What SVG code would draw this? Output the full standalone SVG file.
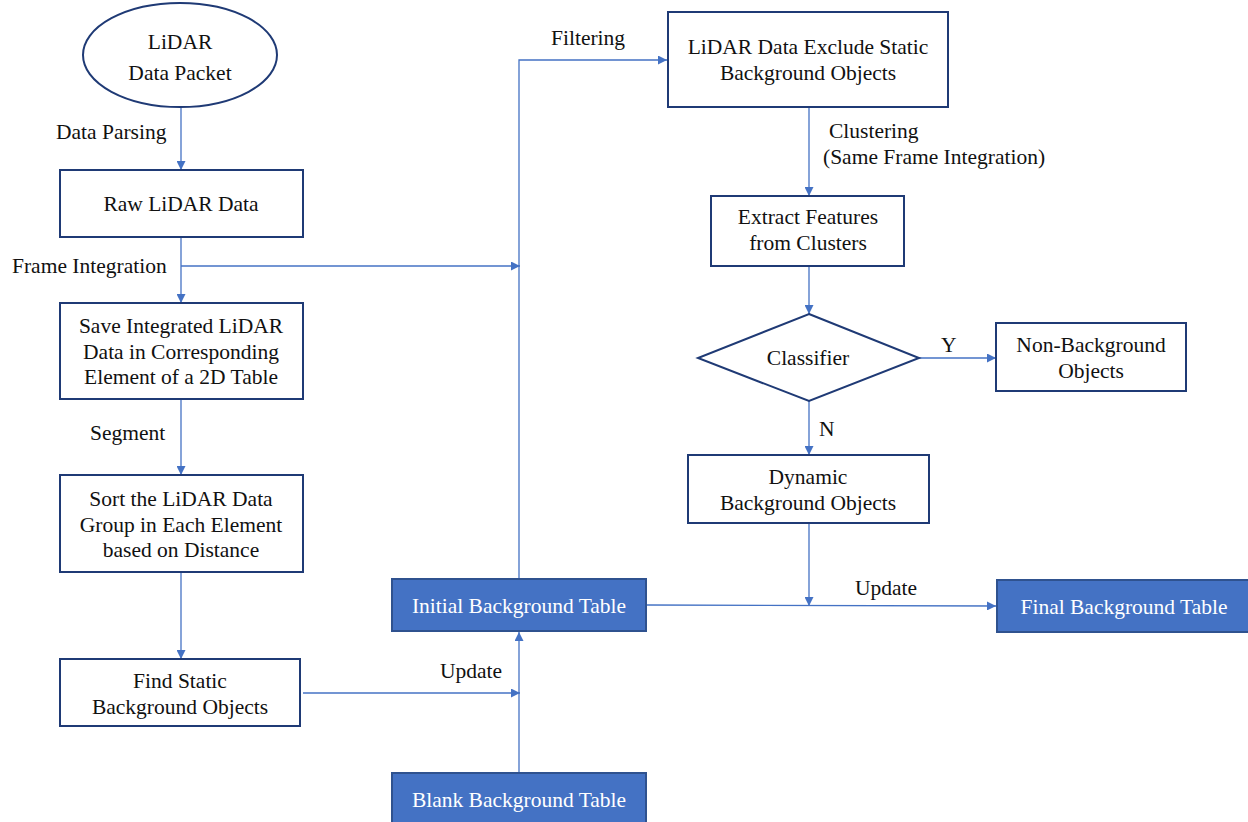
<svg xmlns="http://www.w3.org/2000/svg" width="1248" height="822" viewBox="0 0 1248 822">
  <style>
    text { font-family: 'Liberation Serif', 'DejaVu Serif', serif; font-size: 21.5px; }
    .t { fill: #111111; text-anchor: middle; }
    .tw { fill: #ffffff; text-anchor: middle; }
    .lbl { fill: #111111; }
    .box { fill: #ffffff; stroke: #1f3a75; stroke-width: 2; }
    .tbl { fill: #4472c4; stroke: #2f528f; stroke-width: 2; }
    .c { fill: none; stroke: #4472c4; stroke-width: 1.3; }
  </style>
  <defs>
    <marker id="arr" viewBox="0 0 10 10" refX="10" refY="5" markerWidth="9" markerHeight="9" markerUnits="userSpaceOnUse" orient="auto">
      <path d="M0,0 L10,5 L0,10 z" fill="#4472c4"/>
    </marker>
  </defs>

  <rect width="1248" height="822" fill="#ffffff"/>

  <!-- connectors -->
  <g id="connectors">
    <path class="c" d="M181,107 V170" marker-end="url(#arr)"/>
    <path class="c" d="M181,237 V303" marker-end="url(#arr)"/>
    <path class="c" d="M181,266 H520" marker-end="url(#arr)"/>
    <path class="c" d="M181,399 V475" marker-end="url(#arr)"/>
    <path class="c" d="M181,572 V659" marker-end="url(#arr)"/>
    <path class="c" d="M303,693 H520" marker-end="url(#arr)"/>
    <path class="c" d="M519,773 V632" marker-end="url(#arr)"/>
    <path class="c" d="M519,578 V60 H667" marker-end="url(#arr)"/>
    <path class="c" d="M809,107 V196" marker-end="url(#arr)"/>
    <path class="c" d="M809,266 V314" marker-end="url(#arr)"/>
    <path class="c" d="M919,358 H996" marker-end="url(#arr)"/>
    <path class="c" d="M809,401 V455" marker-end="url(#arr)"/>
    <path class="c" d="M809,523 V606" marker-end="url(#arr)"/>
    <path class="c" d="M647,605 L996,606" marker-end="url(#arr)"/>
  </g>

  <!-- connector labels -->
  <g id="labels">
    <text class="lbl" x="56" y="139">Data Parsing</text>
    <text class="lbl" x="12" y="273">Frame Integration</text>
    <text class="lbl" x="90" y="440">Segment</text>
    <text class="lbl" x="440" y="678">Update</text>
    <text class="lbl" x="551" y="45">Filtering</text>
    <text class="lbl" x="829" y="138">Clustering</text>
    <text class="lbl" x="823" y="164">(Same Frame Integration)</text>
    <text class="lbl" x="941" y="352">Y</text>
    <text class="lbl" x="819" y="436">N</text>
    <text class="lbl" x="855" y="595">Update</text>
  </g>

  <g id="packet">
    <ellipse class="box" cx="180" cy="55" rx="97" ry="52"/>
    <text class="t" x="180" y="49">LiDAR</text>
    <text class="t" x="180" y="80">Data Packet</text>
  </g>

  <g id="raw">
    <rect class="box" x="60" y="170" width="243" height="67"/>
    <text class="t" x="181" y="211">Raw LiDAR Data</text>
  </g>

  <g id="save">
    <rect class="box" x="60" y="303" width="243" height="96"/>
    <text class="t" x="181" y="333">Save Integrated LiDAR</text>
    <text class="t" x="181" y="359">Data in Corresponding</text>
    <text class="t" x="181" y="384">Element of a 2D Table</text>
  </g>

  <g id="sort">
    <rect class="box" x="60" y="475" width="243" height="97"/>
    <text class="t" x="181" y="506">Sort the LiDAR Data</text>
    <text class="t" x="181" y="532">Group in Each Element</text>
    <text class="t" x="181" y="557">based on Distance</text>
  </g>

  <g id="find">
    <rect class="box" x="60" y="659" width="240" height="67"/>
    <text class="t" x="180" y="688">Find Static</text>
    <text class="t" x="180" y="714">Background Objects</text>
  </g>

  <g id="initial">
    <rect class="tbl" x="392" y="579" width="254" height="52"/>
    <text class="tw" x="519" y="613">Initial Background Table</text>
  </g>

  <g id="blank">
    <rect class="tbl" x="392" y="773" width="254" height="52"/>
    <text class="tw" x="519" y="807">Blank Background Table</text>
  </g>

  <g id="exclude">
    <rect class="box" x="668" y="12" width="280" height="95"/>
    <text class="t" x="808" y="54">LiDAR Data Exclude Static</text>
    <text class="t" x="808" y="80">Background Objects</text>
  </g>

  <g id="features">
    <rect class="box" x="711" y="196" width="193" height="70"/>
    <text class="t" x="808" y="224">Extract Features</text>
    <text class="t" x="808" y="250">from Clusters</text>
  </g>

  <g id="classifier">
    <polygon class="box" points="809,314 919,358 809,401 698,358"/>
    <text class="t" x="808" y="365">Classifier</text>
  </g>

  <g id="nonbg">
    <rect class="box" x="996" y="323" width="190" height="68"/>
    <text class="t" x="1091" y="352">Non-Background</text>
    <text class="t" x="1091" y="378">Objects</text>
  </g>

  <g id="dynamic">
    <rect class="box" x="688" y="455" width="241" height="68"/>
    <text class="t" x="808" y="484">Dynamic</text>
    <text class="t" x="808" y="510">Background Objects</text>
  </g>

  <g id="final">
    <rect class="tbl" x="997" y="580" width="254" height="52"/>
    <text class="tw" x="1124" y="614">Final Background Table</text>
  </g>
</svg>
